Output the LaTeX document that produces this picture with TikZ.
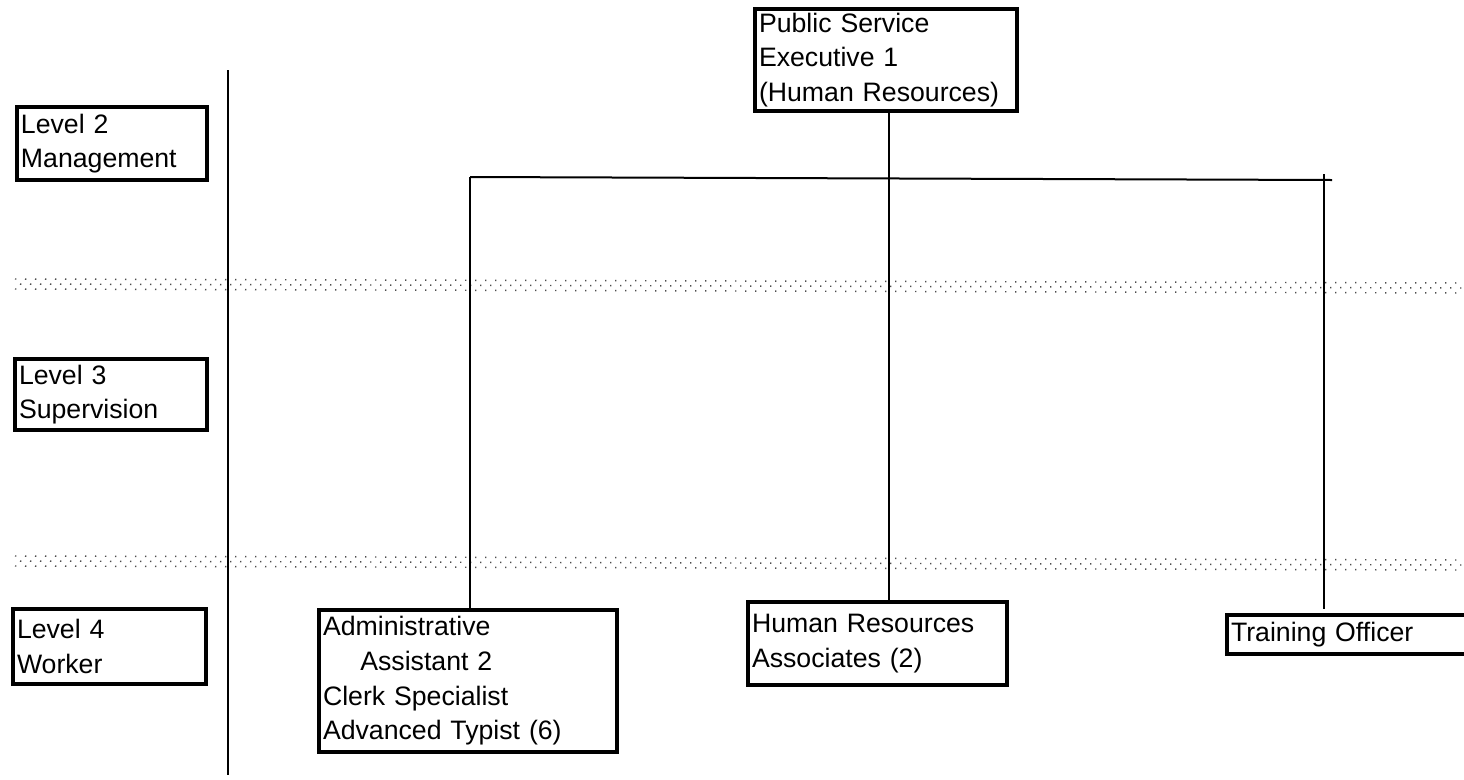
\documentclass[tikz,border=0pt]{standalone}
\usepackage{fontspec}
\setmainfont{Liberation Sans}

\begin{document}
\begin{tikzpicture}[x=0.75pt,y=0.75pt,yscale=-1,xscale=1,
  post/.style={draw, line width=3pt, anchor=north west, align=left, inner xsep=3pt, inner ysep=1pt, font=\fontsize{20}{26}\selectfont},
  conn/.style={line width=1.5pt},
  dotrow/.style={line width=1.1pt, color=black!70, dash pattern=on 1.1pt off 6.4pt}]
%set diagram to 1464 x 779
\clip (0,0) rectangle (1464,779);

%Dotted bands between the levels
\foreach \y in {279,556} {
  \draw [dotrow] (15,\y) -- (1464,\y+4);
  \draw [dotrow, dash phase=3.75pt] (15,\y+5) -- (1464,\y+9);
  \draw [dotrow] (15,\y+10) -- (1464,\y+14);
}

%Straight Lines: level divider
\coordinate (axtop) at (228,70);
\coordinate (axbot) at (228,775);
\draw [line width=2pt] (axtop) -- (axbot);

% Text Node: levels
\node [post, minimum height=54.75pt, text width=136.5pt] (lv2) at (15,105) {Level 2\\Management};
\node [post, minimum height=53.25pt, text width=138pt] (lv3) at (13,357) {Level 3\\Supervision};
\node [post, minimum height=56.25pt, text width=138.75pt] (lv4) at (11,607) {Level 4\\Worker};

% Text Node: positions
\node [post, minimum height=76.5pt, text width=190.5pt] (pse) at (753,7) {Public Service\\Executive 1\\(Human Resources)};
\node [post, minimum height=106.5pt, text width=217.5pt] (aa) at (317,608) {Administrative\\\hspace*{28pt}Assistant 2\\Clerk Specialist\\Advanced Typist (6)};
\node [post, minimum height=62.25pt, text width=188pt] (hra) at (746,600) {Human Resources\\Associates (2)};
\node [post, minimum height=29.25pt, text width=219pt] (tro) at (1225,613) {Training Officer};

%Straight Lines: reporting lines
\coordinate (j1) at (470,177);
\coordinate (j2) at (889,178);
\coordinate (j3) at (1324,180);
\coordinate (busend) at (1332,180);
\draw [conn] (j1) -- (busend);
\draw [conn] (889,0 |- pse.south) -- (j2) -- (j2 |- hra.north);
\draw [conn] (j1) -- (j1 |- aa.north);
\draw [conn] (1324,174) -- (1324,609);

\end{tikzpicture}
\end{document}
